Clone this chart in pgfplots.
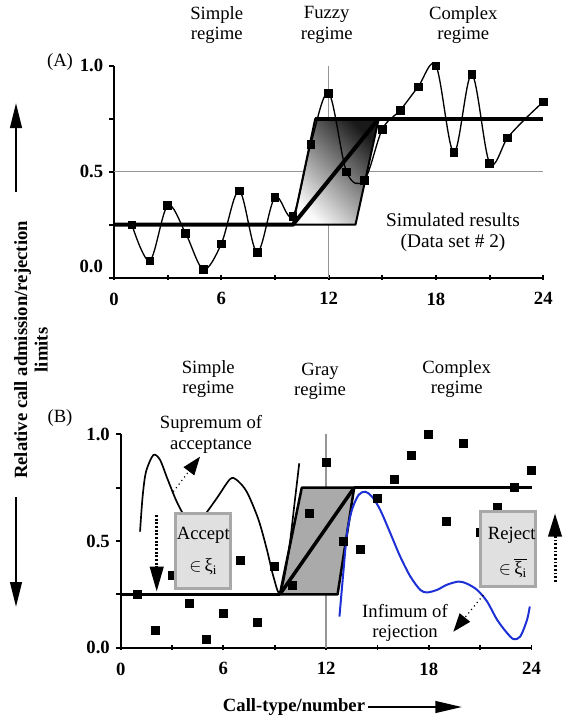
\documentclass[border=0pt]{standalone}
\usepackage{fontspec}
\setmainfont{Liberation Serif}
\usepackage{pgfplots}
\pgfplotsset{compat=1.18}
\usetikzlibrary{arrows.meta}

\definecolor{curveblue}{RGB}{28,48,214}
\definecolor{boxfill}{RGB}{224,224,224}
\definecolor{boxedge}{RGB}{168,168,168}
\definecolor{parfill}{RGB}{170,170,170}
\definecolor{guide}{RGB}{150,150,150}

\newcommand{\fs}{\fontsize{11.2}{12.2}\selectfont}

% simulated results, data set #2
\pgfplotstableread{
x y
1 0.25
2 0.08
3 0.34
4 0.21
5 0.04
6 0.16
7 0.41
8 0.12
9 0.38
10 0.29
11 0.63
12 0.87
13 0.50
14 0.46
15 0.70
16 0.79
17 0.90
18 1.00
19 0.59
20 0.96
21 0.54
22 0.66
23 0.75
24 0.83
}\calldata

\pgfplotsset{
  regime/.style={
    scale only axis,
    axis lines*=left,
    xmin=0, xmax=24, ymin=0, ymax=1,
    xtick={0,3,...,24},
    xticklabels={0,,6,,12,,18,,24},
    ytick={0,0.25,0.5,0.75,1},
    yticklabels={0.0,,0.5,,1.0},
    tick align=outside,
    major tick length=3pt,
    x tick style={yshift=1.5pt},
    axis line style={line width=1.1pt},
    every tick/.style={black, line width=1.1pt},
    tick label style={font=\fs\bfseries},
    xticklabel style={yshift=-2.4pt},
    /pgf/number format/assume math mode=true,
    clip=false,
    anchor=south west,
  }
}

\begin{document}
\begin{tikzpicture}
\path[use as bounding box] (0,0) rectangle (340.8pt,-436.2pt);

% (A) fuzzy regime
\begin{axis}[regime, at={(68.4pt,-166.62pt)}, width=257.58pt, height=127.2pt,
  yticklabels={,,0.5,,1.0}]
  \draw[guide, line width=0.7pt] (12,0) -- (12,1);
  \draw[guide, line width=0.7pt] (0,0.5) -- (24,0.5);
  \path[draw=black, line width=1.2pt, line join=round, top color=black!90, bottom color=black!2, shading angle=-45]
    (10,0.25) -- (11.25,0.75) -- (14.8,0.75) -- (13.5,0.25) -- cycle;
  \draw[line width=2.4pt, line join=round] (0,0.25) -- (10,0.25) -- (14.8,0.75);
  \draw[line width=2.4pt] (11.25,0.75) -- (24,0.75);
  \addplot[black, line width=0.8pt, smooth, tension=0.55] table {\calldata};
  \addplot[only marks, mark=square*, mark size=2.3pt, skip coords between index={22}{23}] table {\calldata};
\end{axis}

% (B) gray regime
\begin{axis}[regime, at={(72.42pt,-388.62pt)}, width=246.48pt, height=128.04pt]
  \draw[guide, line width=0.9pt] (12,0) -- (12,1);
  \path[draw=black, line width=1.5pt, line join=round, fill=parfill]
    (9.3,0.25) -- (10.58,0.75) -- (13.64,0.75) -- (12.67,0.25) -- cycle;
  \draw[line width=1.5pt] (0,0.25) -- (9.3,0.25);
  \draw[line width=1.5pt] (13.64,0.75) -- (24,0.75);
  \draw[line width=2.1pt] (9.3,0.25) -- (13.64,0.75);
  \addplot[black, line width=1pt, smooth, tension=0.5] coordinates {
    (1.13,0.544) (1.28,0.708) (1.48,0.825) (1.91,0.903) (2.30,0.88) (2.69,0.80)
    (3.27,0.685) (3.86,0.60) (4.35,0.58) (4.83,0.614) (5.61,0.70) (6.39,0.79)
    (6.78,0.786) (7.37,0.73) (8.05,0.60) (8.54,0.46) (8.92,0.334) (9.32,0.256)
    (9.8,0.443) (10.19,0.70) (10.43,0.864)};
  \addplot[curveblue, line width=1.2pt, smooth, tension=0.5] coordinates {
    (12.78,0.146) (13.02,0.365) (13.22,0.537) (13.51,0.646) (13.9,0.716) (14.29,0.731)
    (14.68,0.708) (15.16,0.646) (15.75,0.537) (16.33,0.427) (16.92,0.334) (17.5,0.271)
    (17.9,0.259) (18.48,0.271) (19.06,0.295) (19.74,0.31) (20.23,0.30) (20.82,0.271)
    (21.4,0.217) (21.99,0.131) (22.57,0.069) (22.96,0.04) (23.35,0.053) (23.74,0.131)
    (23.9,0.193)};
  \addplot[only marks, mark=square*, mark size=2.4pt] table {\calldata};
\end{axis}

% annotations in pixel coordinates of the 568x727 frame
\begin{scope}[x=0.6pt, y=-0.6pt, every node/.style={font=\fs, align=center, inner sep=0pt}]
  \node at (60,62) {(A)};
  \node[font=\fs\bfseries, anchor=east] at (103.3,266) {0.0};
  \node at (216.7,25) {Simple\\regime};
  \node at (326.7,25) {Fuzzy\\regime};
  \node at (463.3,25) {Complex\\regime};
  \node[font=\fontsize{11.6}{12.6}\selectfont] at (453,232.5) {Simulated results\\(Data set \# 2)};

  \node at (60,418) {(B)};
  \node at (208.3,379) {Simple\\regime};
  \node at (320,381) {Gray\\regime};
  \node at (456.7,379) {Complex\\regime};
  \node at (211,434.5) {Supremum of\\acceptance};
  \node at (405,623) {Infimum of\\rejection};

  \draw[boxedge, line width=1.8pt, fill=boxfill] (175,513.3) rectangle (230,588.3);
  \node at (203.3,535) {Accept};
  \node at (203.3,566.7) {$\in$\,ξ\textsubscript{i}};
  \draw[boxedge, line width=1.8pt, fill=boxfill] (480,511.7) rectangle (535,586);
  \node at (511.7,535) {Reject};
  \node at (513,568.3) {$\in$\,$\overline{\hbox{ξ\textsubscript{i}}}$};

  \draw[line width=1.8pt, dash pattern=on 1.1pt off 1.1pt, -{Triangle[length=15pt,width=8pt]}] (156.7,515) -- (156.7,591.7);
  \draw[line width=1.8pt, dash pattern=on 1.1pt off 1.1pt, -{Triangle[length=14pt,width=8pt]}] (555,581.7) -- (555,513.3);
  \draw[line width=0.7pt, dotted, -{Triangle[length=11pt,width=8pt]}] (173.3,491.7) -- (200,456.7);
  \draw[line width=0.7pt, dotted, -{Triangle[length=11pt,width=8pt]}] (483.3,595) -- (453.3,631.7);

  \node[font=\fs\bfseries, rotate=90] at (31,350) {Relative call admission/rejection\\limits};
  \draw[line width=1.4pt, -{Triangle[length=15pt,width=7pt]}] (16,192) -- (16,103);
  \draw[line width=1.4pt, -{Triangle[length=15pt,width=7pt]}] (16,497) -- (16,607);

  \node[font=\fs\bfseries] at (294,707) {Call-type/number};
  \draw[line width=1.3pt, -{Triangle[length=16pt,width=7pt]}] (368,707) -- (462,707);
\end{scope}
\end{tikzpicture}
\end{document}
